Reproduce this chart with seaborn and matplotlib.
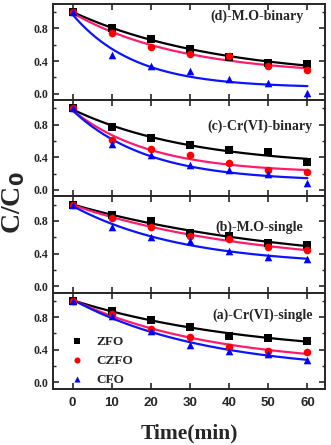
import numpy as np
import pandas as pd
import seaborn as sns
import matplotlib.pyplot as plt
from matplotlib.ticker import MultipleLocator

time = [0, 10, 20, 30, 40, 50, 60]
catalysts = ['ZFO', 'CZFO', 'CFO']
panels = ['(d)-M.O-binary', '(c)-Cr(VI)-binary', '(b)-M.O-single', '(a)-Cr(VI)-single']

# C/C0 values, one list per catalyst and panel
mo_binary = {
    'ZFO':  [1.00, 0.81, 0.67, 0.55, 0.45, 0.38, 0.36],
    'CZFO': [1.00, 0.75, 0.57, 0.49, 0.46, 0.34, 0.29],
    'CFO':  [1.00, 0.47, 0.34, 0.28, 0.18, 0.13, 0.01],
}
cr_binary = {
    'ZFO':  [1.00, 0.77, 0.64, 0.55, 0.49, 0.46, 0.34],
    'CZFO': [1.00, 0.61, 0.50, 0.43, 0.33, 0.25, 0.22],
    'CFO':  [1.00, 0.56, 0.43, 0.31, 0.25, 0.20, 0.08],
}
mo_single = {
    'ZFO':  [1.00, 0.87, 0.80, 0.65, 0.62, 0.53, 0.50],
    'CZFO': [1.00, 0.84, 0.73, 0.62, 0.58, 0.48, 0.44],
    'CFO':  [1.00, 0.73, 0.60, 0.55, 0.43, 0.36, 0.33],
}
cr_single = {
    'ZFO':  [1.00, 0.88, 0.77, 0.68, 0.57, 0.55, 0.51],
    'CZFO': [1.00, 0.84, 0.66, 0.56, 0.43, 0.39, 0.37],
    'CFO':  [1.00, 0.82, 0.63, 0.46, 0.38, 0.35, 0.28],
}
panel_data = [mo_binary, cr_binary, mo_single, cr_single]

colors = {'ZFO': 'black', 'CZFO': '#ff0000', 'CFO': '#0000ff'}
line_colors = {'ZFO': 'black', 'CZFO': '#ff1a6e', 'CFO': '#0a14ff'}
markers = {'ZFO': 's', 'CZFO': 'o', 'CFO': '^'}
title_pos = [(0.92, 0.87), (0.955, 0.73), (0.92, 0.68), (0.955, 0.77)]


def exp_fit(t, y):
    # y = y0 + A*exp(-k t), grid search on k, linear least squares for y0, A
    t = np.asarray(t, float)
    y = np.asarray(y, float)
    best = None
    for k in np.linspace(0.002, 0.3, 600):
        X = np.column_stack([np.ones_like(t), np.exp(-k * t)])
        coef, *_ = np.linalg.lstsq(X, y, rcond=None)
        err = np.sum((X @ coef - y) ** 2)
        if best is None or err < best[0]:
            best = (err, k, coef)
    _, k, (y0, a) = best
    tt = np.linspace(t.min(), t.max(), 200)
    return tt, y0 + a * np.exp(-k * tt)


sns.set_style('ticks')
plt.rcParams['font.family'] = ['Liberation Serif', 'DejaVu Serif']
plt.rcParams['font.weight'] = 'bold'

fig = plt.figure(figsize=(3.31, 4.45), dpi=100)
gs = fig.add_gridspec(4, 1, left=0.16, right=0.982, top=0.991, bottom=0.126, hspace=0)
axes = [fig.add_subplot(gs[i]) for i in range(4)]

for ax, title, data, (tx, ty) in zip(axes, panels, panel_data, title_pos):
    rows = []
    for c in catalysts:
        for t, v in zip(time, data[c]):
            rows.append({'time': t, 'ratio': v, 'cat': c})
    df = pd.DataFrame(rows)
    for c in catalysts:
        tt, yy = exp_fit(time, data[c])
        sns.lineplot(x=tt, y=yy, ax=ax, color=line_colors[c], lw=1.6)
    for c in catalysts:
        sub = df[df['cat'] == c]
        sns.scatterplot(data=sub, x='time', y='ratio', ax=ax, color=colors[c],
                        marker=markers[c], s=30, linewidth=0, label=c, zorder=3)
    ax.set_xlim(-5, 64.5)
    ax.set_ylim(-0.08, 1.1)
    ax.set_xticks(time)
    ax.set_yticks([0.0, 0.4, 0.8])
    ax.set_yticklabels(['0.0', '0.4', '0.8'])
    ax.yaxis.set_minor_locator(MultipleLocator(0.2))
    ax.tick_params(direction='in', top=True, right=True, length=4, width=1.2,
                   labelsize=8.5)
    ax.tick_params(axis='x', labelsize=9.5, pad=6)
    ax.tick_params(which='minor', direction='in', left=True, right=True, length=2.5, width=1)
    for s in ax.spines.values():
        s.set_linewidth(1.4)
    ax.set_xlabel('')
    ax.set_ylabel('')
    ax.text(tx, ty, title, transform=ax.transAxes, ha='right', va='center',
            fontsize=10, fontweight='bold')
    if ax is not axes[-1]:
        ax.tick_params(labelbottom=False)
        ax.get_legend().remove()
    else:
        for lab in ax.get_xticklabels():
            lab.set_family(['Liberation Sans', 'DejaVu Sans'])
        leg = ax.legend(loc='lower left', frameon=False, handletextpad=0.5,
                        borderaxespad=0.0, labelspacing=0.5, bbox_to_anchor=(0.02, -0.02),
                        markerscale=0.8, prop={'weight': 'bold', 'size': 9.5})

axes[-1].set_xlabel('Time(min)', fontsize=15.5, fontweight='bold', labelpad=10)
fig.text(0.04, 0.545, 'C/C$_\\mathbf{0}$', rotation=90, ha='center', va='center',
         fontsize=20, fontweight='bold')

fig.savefig('out.png', dpi=100)
